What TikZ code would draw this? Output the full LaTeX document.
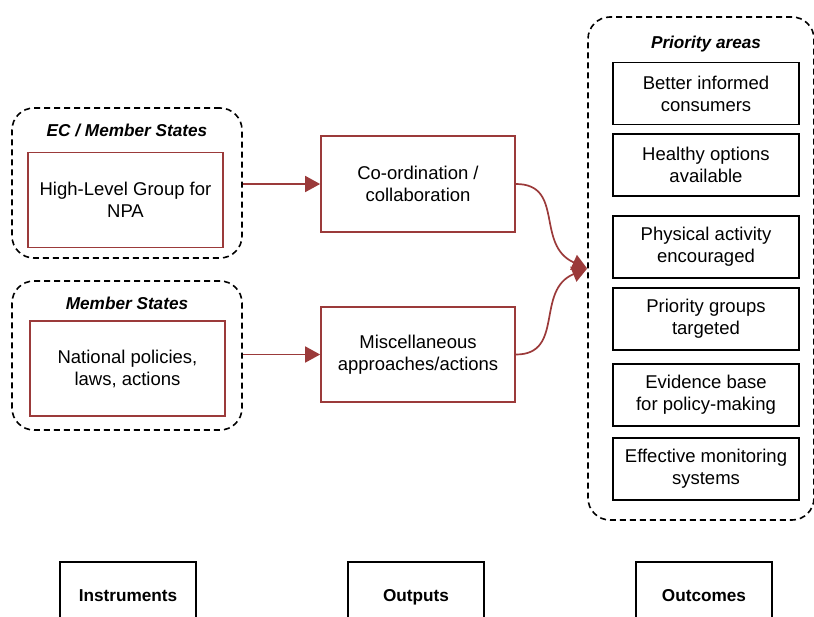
\documentclass[tikz,border=0pt]{standalone}
\usepackage{fontspec}
\setmainfont{Liberation Sans}
\usepackage{tikz}
\usetikzlibrary{arrows.meta,positioning,calc}

\definecolor{linkred}{HTML}{9B3A3A}

\tikzset{
    group/.style={draw=black, dashed, dash pattern=on 3pt off 2pt, line width=0.8pt, rounded corners=11pt},
    grouptitle/.style={font=\fontsize{8.6}{10}\selectfont\bfseries\itshape},
    redbox/.style={draw=linkred, line width=0.85pt, align=center, inner sep=0pt},
    areabox/.style={draw=black, line width=0.85pt, align=center, inner sep=0pt, minimum width=93pt, minimum height=31pt},
    stagebox/.style={draw=black, line width=0.85pt, font=\fontsize{8.6}{10}\selectfont\bfseries, inner sep=0pt, minimum height=33pt, text height=6.3pt, text depth=0pt},
    link/.style={draw=linkred, line width=0.85pt, -{Triangle[length=7.5pt,width=8pt]}}
}

\begin{document}
\begin{tikzpicture}[x=0.5pt, y=-0.5pt, font=\fontsize{9.25}{11}\selectfont]
    \clip (0,0) rectangle (814,616);
    % instruments
    \node[group, minimum width=115pt, minimum height=75pt] (ecgrp) at (127,183) {};
    \node[grouptitle] (ectitle) at (127,130) {EC / Member States};
    \node[redbox, minimum width=97.5pt, minimum height=47.5pt] (hlg) at (125.5,200) {High-Level Group for\\NPA};
    \node[group, minimum width=115pt, minimum height=74.5pt] (msgrp) at (127,355.5) {};
    \node[grouptitle] (mstitle) at (127,303) {Member States};
    \node[redbox, minimum width=97.5pt, minimum height=47.5pt] (natl) at (127.5,368.5) {National policies,\\laws, actions};
    % outputs
    \node[redbox, minimum width=97pt, minimum height=48pt] (coord) at (418,184) {Co-ordination /\\collaboration};
    \node[redbox, minimum width=97pt, minimum height=47.5pt] (misc) at (418,354.5) {Miscellaneous\\approaches/actions};
    % outcomes
    \node[group, minimum width=113pt, minimum height=251.5pt] (prio) at (701,268.5) {};
    \node[grouptitle] (priotitle) at (706,44) {Priority areas};
    \node[areabox] (area1) at (706,93.5) {Better informed\\consumers};
    \node[areabox] (area2) at (706,165) {Healthy options\\available};
    \node[areabox] (area3) at (706,247) {Physical activity\\encouraged};
    \node[areabox] (area4) at (706,319) {Priority groups\\targeted};
    \node[areabox] (area5) at (706,395) {Evidence base\\for policy-making};
    \node[areabox] (area6) at (706,469) {Effective monitoring\\systems};
    % stages
    \node[stagebox, minimum width=68pt] (instr) at (128,595) {Instruments};
    \node[stagebox, minimum width=68pt] (outp) at (416,595) {Outputs};
    \node[stagebox, minimum width=68pt] (outc) at (704,595) {Outcomes};
    % links
    \path[link] (ecgrp.east |- coord.west) -- (coord.west);
    \path[link] (msgrp.east |- misc.west) -- (misc.west);
    \path[link] (coord.east) .. controls (565,184) and (535,245) .. (prio.west);
    \path[link] (misc.east) .. controls (565,354.5) and (535,290) .. (prio.west);
\end{tikzpicture}
\end{document}
